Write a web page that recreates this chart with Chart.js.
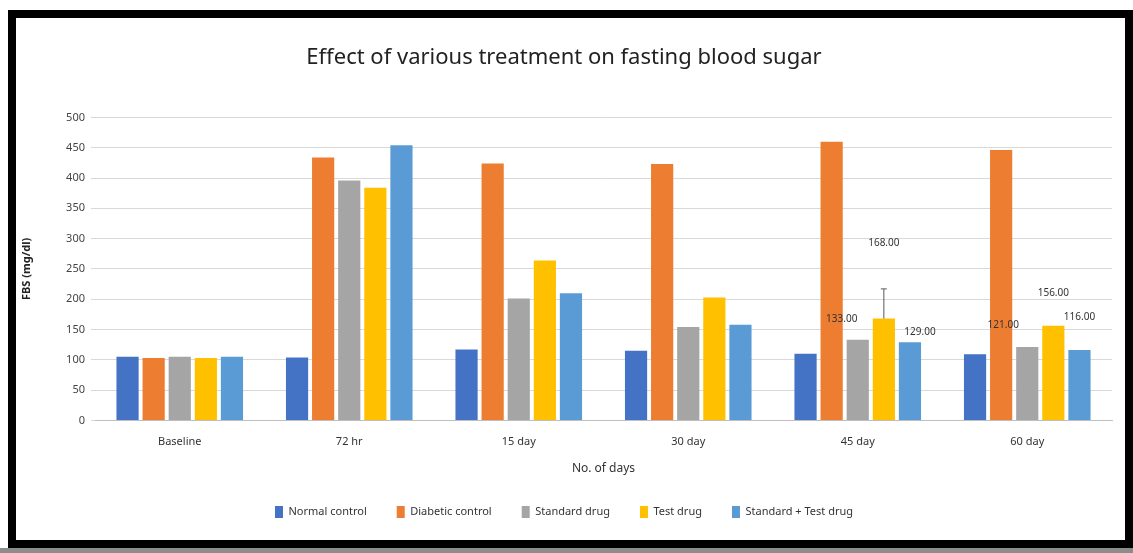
<!DOCTYPE html>
<html>
<head>
<meta charset="utf-8">
<script src="https://cdn.jsdelivr.net/npm/chart.js@4.4.1/dist/chart.umd.min.js"></script>
<style>
  body { margin: 0; background: #fff; width: 1133px; height: 553px; overflow: hidden; position: relative; }
  #frame { position: absolute; left: 8px; top: 10px; width: 1109px; height: 522px; border: 8px solid #000; background: #fff; }
  #strip { position: absolute; left: 0; top: 548px; width: 1133px; height: 5px; background: #8c8c8c; }
</style>
</head>
<body>
<div id="frame"><canvas id="fbsChart" width="1109" height="522"></canvas></div>
<div id="strip"></div>
<script>
// ===================== Data =====================
const categories = ["Baseline", "72 hr", "15 day", "30 day", "45 day", "60 day"];
const seriesNames = ["Normal control", "Diabetic control", "Standard drug", "Test drug", "Standard + Test drug"];
const normalControl = [105, 104, 117, 115, 110, 109];
const diabeticControl = [103, 434, 424, 423, 460, 446];
const standardDrug = [105, 396, 201, 154, 133, 121];
const testDrug = [103, 384, 264, 203, 168, 156];
const combinedDrug = [105, 454, 210, 158, 129, 116];
const testDrugSD = [null, null, null, null, 49, null];
const yMax = 500;
const yStep = 50;

const colors = ["#4472C4", "#ED7D31", "#A5A5A5", "#FFC000", "#5B9BD5"];
const seriesValues = [normalControl, diabeticControl, standardDrug, testDrug, combinedDrug];

// value labels on the last two time points: [dataset, category, lift above bar top, x shift]
const valueLabels = [
  [2, 4, 16, -16], [3, 4, 70, 0], [4, 4, 5, 10],
  [2, 5, 17, -24], [3, 5, 28, 0], [4, 5, 28, 0]
];

// ===================== Plugins =====================
const errorBars = {
  id: "errorBars",
  afterDatasetsDraw(chart) {
    const { ctx } = chart;
    const meta = chart.getDatasetMeta(3);
    const y = chart.scales.y;
    ctx.save();
    ctx.strokeStyle = "#595959";
    ctx.lineWidth = 1;
    testDrugSD.forEach((sd, i) => {
      if (sd == null) return;
      const bar = meta.data[i];
      const top = y.getPixelForValue(testDrug[i] + sd);
      ctx.beginPath();
      ctx.moveTo(bar.x, bar.y);
      ctx.lineTo(bar.x, top);
      ctx.moveTo(bar.x - 3, top);
      ctx.lineTo(bar.x + 3, top);
      ctx.stroke();
    });
    ctx.restore();
  }
};

const barLabels = {
  id: "barLabels",
  afterDatasetsDraw(chart) {
    const { ctx } = chart;
    ctx.save();
    ctx.font = "10px 'Noto Sans'";
    ctx.fillStyle = "#333";
    ctx.textAlign = "center";
    ctx.textBaseline = "bottom";
    valueLabels.forEach(([ds, cat, lift, shift]) => {
      const bar = chart.getDatasetMeta(ds).data[cat];
      const v = seriesValues[ds][cat];
      ctx.fillText(v.toFixed(2), bar.x + shift, bar.y - lift);
    });
    ctx.restore();
  }
};

// ===================== Chart =====================
const ctx = document.getElementById("fbsChart").getContext("2d");
new Chart(ctx, {
  type: "bar",
  data: {
    labels: categories,
    datasets: seriesValues.map((vals, i) => ({
      label: seriesNames[i],
      data: vals,
      backgroundColor: colors[i],
      categoryPercentage: 0.77,
      barPercentage: 0.85
    }))
  },
  options: {
    responsive: false,
    animation: false,
    layout: { padding: { left: 0, right: 13, top: 0, bottom: 12 } },
    plugins: {
      title: {
        display: true,
        text: "Effect of various treatment on fasting blood sugar",
        color: "#222",
        font: { family: "'Noto Sans'", size: 22, weight: "normal" },
        padding: { top: 27, bottom: 46 }
      },
      legend: {
        position: "bottom",
        labels: {
          boxWidth: 8,
          boxHeight: 12,
          padding: 30,
          color: "#333",
          font: { family: "'Noto Sans'", size: 11 }
        }
      },
      tooltip: { enabled: false }
    },
    scales: {
      y: {
        min: 0,
        max: yMax,
        ticks: { stepSize: yStep, color: "#444", padding: 6, font: { family: "'Noto Sans'", size: 11 } },
        grid: { color: "#d9d9d9", tickLength: 4 },
        border: { display: false },
        title: { display: true, text: "FBS (mg/dl)", color: "#222", padding: { top: 4, bottom: 0 }, font: { family: "'Noto Sans'", size: 11, weight: "bold" } },
        afterFit(scale) { scale.width = 79; }
      },
      x: {
        grid: { display: false },
        border: { color: "#bfbfbf" },
        ticks: { color: "#333", padding: 7, font: { family: "'Noto Sans'", size: 11 } },
        title: { display: true, text: "No. of days", color: "#333", padding: { top: 6, bottom: 0 }, font: { family: "'Noto Sans'", size: 12 } }
      }
    }
  },
  plugins: [errorBars, barLabels]
});
</script>
</body>
</html>
